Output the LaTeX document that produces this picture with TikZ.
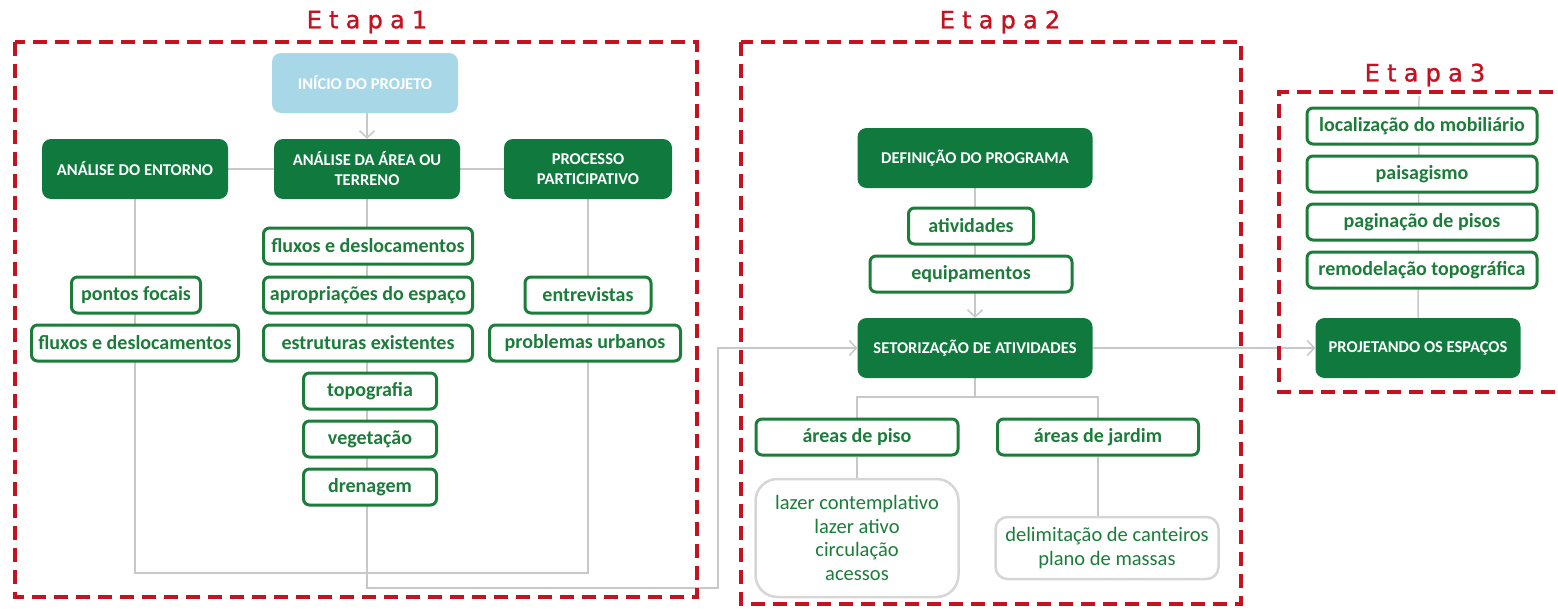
\documentclass[tikz,border=0pt]{standalone}
\usepackage{fontspec}
\setmainfont{Carlito}
\newfontfamily\etapafont[LetterSpace=30,FakeBold=1.2]{DejaVu Sans}
\usetikzlibrary{arrows.meta,backgrounds}

\definecolor{dkgreen}{RGB}{16,122,62}
\definecolor{lngreen}{RGB}{28,124,58}
\definecolor{skyblue}{RGB}{168,216,232}
\definecolor{connGray}{RGB}{200,200,200}
\definecolor{boxGray}{RGB}{214,214,214}
\definecolor{etred}{RGB}{196,18,32}

\tikzset{
  darkbox/.style={rounded corners=9pt, fill=dkgreen, text=white, align=center,
    font=\bfseries\fontsize{16.5}{20}\selectfont, minimum height=60pt, inner sep=2pt},
  startbox/.style={darkbox, fill=skyblue},
  itembox/.style={rounded corners=6pt, draw=lngreen, line width=3pt, fill=white,
    text=lngreen, font=\bfseries\fontsize{20}{22}\selectfont, minimum height=36pt, inner sep=1pt},
  listbox/.style={rounded corners=22pt, draw=boxGray, line width=2.5pt, fill=white,
    text=lngreen, align=center, font=\fontsize{20.5}{23.5}\selectfont, inner sep=2pt},
  conn/.style={draw=connGray, line width=1.5pt},
  flow/.style={conn, -{Straight Barb[length=7pt,width=15pt,line width=1.5pt]}},
  stage/.style={draw=etred, line width=4pt, dash pattern=on 14pt off 8pt},
  stagetitle/.style={text=etred, font=\etapafont\fontsize{24}{26}\selectfont},
}

\begin{document}
\begin{tikzpicture}[x=1pt, y=-1pt]
\useasboundingbox (0,0) rectangle (1558,608);

% ---- Etapa 1: levantamento e análise ----
\node[startbox, minimum width=186pt] (inicio) at (365,83) {INÍCIO DO PROJETO};
\node[darkbox, minimum width=186pt] (entorno) at (135,169) {ANÁLISE DO ENTORNO};
\node[darkbox, minimum width=186pt] (area) at (367,169) {ANÁLISE DA ÁREA OU\\TERRENO};
\node[darkbox, minimum width=168pt] (processo) at (588,169) {PROCESSO\\PARTICIPATIVO};

\node[itembox, minimum width=129pt] (pontos) at (136,295) {pontos focais};
\node[itembox, minimum width=207pt] (fluxosL) at (135,343) {fluxos e deslocamentos};

\node[itembox, minimum width=209pt] (fluxosM) at (368,246) {fluxos e deslocamentos};
\node[itembox, minimum width=209pt] (aprop) at (368,295) {apropriações do espaço};
\node[itembox, minimum width=209pt] (estrut) at (368,343) {estruturas existentes};
\node[itembox, minimum width=133pt] (topo) at (370,391) {topografia};
\node[itembox, minimum width=133pt] (veget) at (370,439) {vegetação};
\node[itembox, minimum width=133pt] (dren) at (370,487) {drenagem};

\node[itembox, minimum width=126pt] (entrev) at (588,295) {entrevistas};
\node[itembox, minimum width=191pt] (probl) at (585,343) {problemas urbanos};

% ---- Etapa 2: programa e setorização ----
\node[darkbox, minimum width=235pt] (defin) at (975,158) {DEFINIÇÃO DO PROGRAMA};
\node[itembox, minimum width=125pt] (ativ) at (971,226) {atividades};
\node[itembox, minimum width=202pt] (equip) at (971,274) {equipamentos};
\node[darkbox, minimum width=235pt] (setor) at (975,348) {SETORIZAÇÃO DE ATIVIDADES};

\node[itembox, minimum width=202pt] (piso) at (857,437) {áreas de piso};
\node[itembox, minimum width=201pt] (jardim) at (1098,437) {áreas de jardim};
\node[listbox, minimum width=203pt, minimum height=118pt] (lazer) at (857,538)
  {lazer contemplativo\\lazer ativo\\circulação\\acessos};
\node[listbox, rounded corners=12pt, minimum width=223pt, minimum height=62pt] (delim) at (1107,548)
  {delimitação de canteiros\\plano de massas};

% ---- Etapa 3: projeto ----
\node[itembox, minimum width=230pt] (local) at (1422,126) {localização do mobiliário};
\node[itembox, minimum width=230pt] (paisag) at (1422,174) {paisagismo};
\node[itembox, minimum width=230pt] (pagin) at (1422,222) {paginação de pisos};
\node[itembox, minimum width=230pt] (remod) at (1422,270) {remodelação topográfica};
\node[darkbox, minimum width=205pt] (projet) at (1418,348) {PROJETANDO OS ESPAÇOS};

% ---- connectors ----
\coordinate (bracket) at (0,573);
\coordinate (areaLow) at (0,588);
\coordinate (turn) at (718,588);
\coordinate (split) at (0,397);
\coordinate (e3top) at (1419,96);

\begin{scope}[on background layer]
  \fill[white] (0,0) rectangle (1558,608);
  \draw[flow] (inicio.south -| area) -- (area.north);
  \draw[conn] (entorno) -- (area) -- (processo);
  \draw[conn] (entorno) -- (entorno |- bracket) -- (processo |- bracket) -- (processo);
  \draw[flow] (area) -- (area |- areaLow) -- (turn) |- (setor.west);
  \draw[flow] (defin) -- (setor.north);
  \draw[conn] (setor) -- (setor |- split);
  \draw[conn] (lazer.north) -- (piso) -- (piso |- split) -- (jardim |- split) -- (jardim) -- (jardim |- delim.north);
  \draw[flow] (setor.east) -- (projet.west);
  \draw[conn] (e3top) -- (projet.north);
\end{scope}

% ---- stage frames and titles ----
\draw[stage] (15,42) rectangle (697,597);
\draw[stage] (741,42) rectangle (1241,604);
\draw[stage] (1575,92) -- (1279,92) -- (1279,392) -- (1575,392);

\node[stagetitle] (t1) at (367,22) {Etapa1};
\node[stagetitle] (t2) at (1000,22) {Etapa2};
\node[stagetitle] (t3) at (1425,75) {Etapa3};
\end{tikzpicture}
\end{document}
